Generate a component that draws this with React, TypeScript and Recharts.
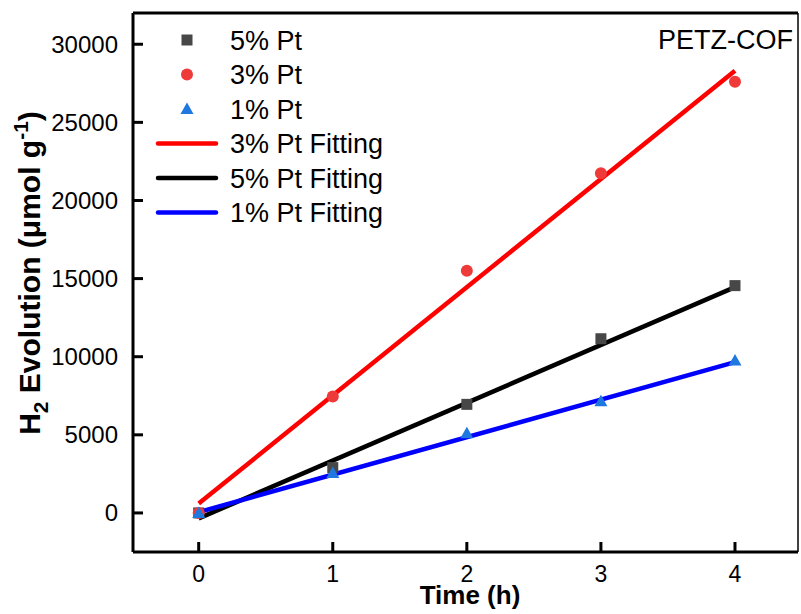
import React from 'react';
import { ComposedChart, XAxis, YAxis, Scatter, Line, ReferenceLine } from 'recharts';

const timeH = [0, 1, 2, 3, 4];
const pt5 = [0, 2900, 6950, 11150, 14550];
const pt3 = [0, 7450, 15500, 21750, 27600];
const pt1 = [0, 2550, 5100, 7150, 9750];
const fitX = [0, 4];
const fit3 = [600, 28300];
const fit5 = [-350, 14450];
const fit1 = [50, 9650];
const xTicks = [0, 1, 2, 3, 4];
const yTicks = [0, 5000, 10000, 15000, 20000, 25000, 30000];

const toPts = (xs: number[], ys: number[]) => xs.map((x, i) => ({ x, y: ys[i] }));

const data5 = toPts(timeH, pt5);
const data3 = toPts(timeH, pt3);
const data1 = toPts(timeH, pt1);
const line3 = toPts(fitX, fit3);
const line5 = toPts(fitX, fit5);
const line1 = toPts(fitX, fit1);

const FONT = 'Arial, "Liberation Sans", sans-serif';
const C_SQ = '#474747';
const C_CI = '#ef3a3a';
const C_TR = '#1f77e0';

const Square = (p: any) => (
  <rect x={p.cx - 5.5} y={p.cy - 5.5} width={11} height={11} fill={C_SQ} />
);
const Circle = (p: any) => <circle cx={p.cx} cy={p.cy} r={6} fill={C_CI} />;
const Tri = (p: any) => (
  <polygon
    points={`${p.cx},${p.cy - 6.5} ${p.cx + 6.5},${p.cy + 5} ${p.cx - 6.5},${p.cy + 5}`}
    fill={C_TR}
  />
);

const YTick = (props: any) => {
  const { x, y, payload } = props;
  return (
    <g>
      <line x1={x} x2={x + 10} y1={y} y2={y} stroke="#000" strokeWidth={3} />
      <text x={x - 15} y={y} dy={8.5} textAnchor="end" fontSize={24} fill="#000" fontFamily={FONT}>
        {payload.value}
      </text>
    </g>
  );
};

const XTick = (props: any) => {
  const { x, y, payload } = props;
  return (
    <g>
      <line x1={x} x2={x} y1={y} y2={y - 10} stroke="#000" strokeWidth={3} />
      <text x={x} y={y + 30} textAnchor="middle" fontSize={23} fill="#000" fontFamily={FONT}>
        {payload.value}
      </text>
    </g>
  );
};

const legendItems = [
  { name: '5% Pt', kind: 'sq' },
  { name: '3% Pt', kind: 'ci' },
  { name: '1% Pt', kind: 'tr' },
  { name: '3% Pt Fitting', kind: 'line', color: '#ff0000' },
  { name: '5% Pt Fitting', kind: 'line', color: '#000000' },
  { name: '1% Pt Fitting', kind: 'line', color: '#0000ff' },
];

const LegendBlock = () => (
  <g>
    {legendItems.map((it, i) => {
      const cy = 40 + i * 34.5;
      let mark: any = null;
      if (it.kind === 'sq') mark = <Square cx={187} cy={cy} />;
      else if (it.kind === 'ci') mark = <Circle cx={187} cy={cy} />;
      else if (it.kind === 'tr') mark = <Tri cx={187} cy={cy} />;
      else mark = <line x1={158} x2={216} y1={cy} y2={cy} stroke={it.color} strokeWidth={4.5} strokeLinecap="round" />;
      return (
        <g key={it.name}>
          {mark}
          <text x={230} y={cy + 9.5} fontSize={27} fontFamily={FONT} fill="#000">
            {it.name}
          </text>
        </g>
      );
    })}
  </g>
);

const YTitle = () => (
  <text
    transform="translate(40,273) rotate(-90)"
    textAnchor="middle"
    fontSize={30}
    fontWeight="bold"
    fontFamily={FONT}
    fill="#000"
  >
    H<tspan fontSize={21} dy={8}>2</tspan>
    <tspan dy={-8}> Evolution (μmol g</tspan>
    <tspan fontSize={21} dy={-12}>-1</tspan>
    <tspan dy={12}>)</tspan>
  </text>
);

const XTitle = () => (
  <text x={470} y={604} textAnchor="middle" fontSize={26} fontWeight="bold" fontFamily={FONT} fill="#000">
    Time (h)
  </text>
);

export default function App() {
  return (
    <div style={{ position: 'absolute', left: 0, top: 0, width: 801, height: 614, background: '#fff' }}>
      <ComposedChart
        width={801}
        height={614}
        margin={{ top: 13, right: 3, left: 0, bottom: 0 }}
      >
        <XAxis
          type="number"
          dataKey="x"
          domain={[-0.49, 4.47]}
          ticks={xTicks}
          allowDataOverflow
          height={62}
          tickSize={0}
          tickMargin={0}
          tickLine={false}
          tick={<XTick />}
          axisLine={{ stroke: '#000', strokeWidth: 3 }}
          label={{ content: () => <XTitle /> }}
        />
        <YAxis
          type="number"
          dataKey="y"
          domain={[-2500, 32000]}
          ticks={yTicks}
          allowDataOverflow
          width={133}
          tickSize={0}
          tickMargin={0}
          tickLine={false}
          tick={<YTick />}
          axisLine={{ stroke: '#000', strokeWidth: 3 }}
          label={{ content: () => <YTitle /> }}
        />
        <ReferenceLine y={32000} stroke="#000" strokeWidth={3} />
        <ReferenceLine x={4.47} stroke="#000" strokeWidth={1.5} />
        <Scatter name="5% Pt" data={data5} shape={<Square />} isAnimationActive={false} />
        <Scatter name="3% Pt" data={data3} shape={<Circle />} isAnimationActive={false} />
        <Scatter name="1% Pt" data={data1} shape={<Tri />} isAnimationActive={false} />
        <Line data={line3} dataKey="y" stroke="#ff0000" strokeWidth={4.5} dot={false} activeDot={false} isAnimationActive={false} />
        <Line data={line5} dataKey="y" stroke="#000000" strokeWidth={4.5} dot={false} activeDot={false} isAnimationActive={false} />
        <Line data={line1} dataKey="y" stroke="#0000ff" strokeWidth={4.5} dot={false} activeDot={false} isAnimationActive={false} />
        <LegendBlock />
        <text x={793} y={49} textAnchor="end" fontSize={27} fontFamily={FONT} fill="#000">
          PETZ-COF
        </text>
      </ComposedChart>
    </div>
  );
}
